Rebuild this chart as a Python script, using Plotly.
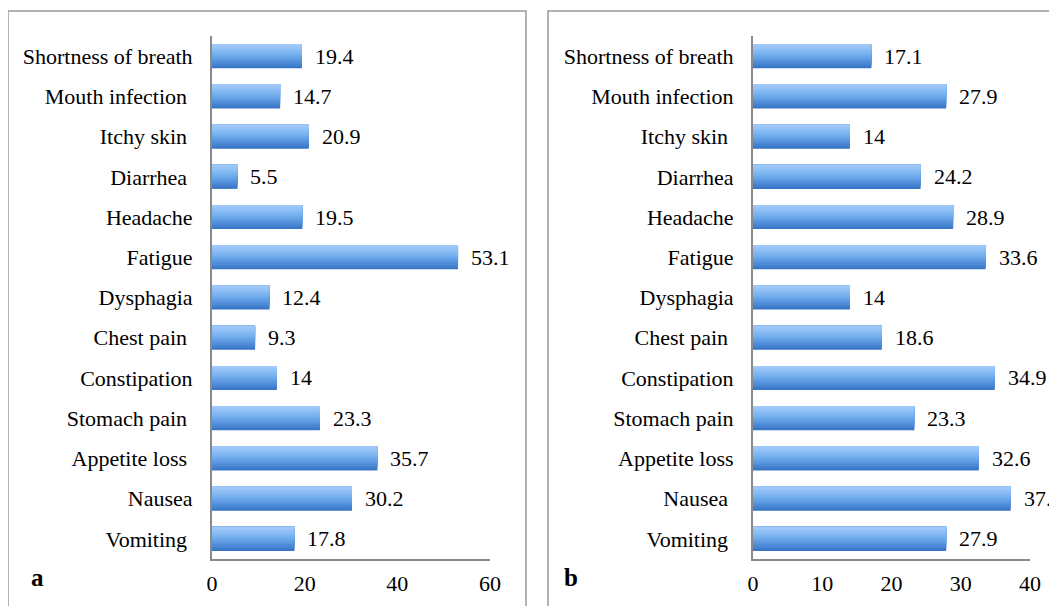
import plotly.graph_objects as go

categories = ["Vomiting", "Nausea", "Appetite loss", "Stomach pain", "Constipation",
              "Chest pain", "Dysphagia", "Fatigue", "Headache", "Diarrhea",
              "Itchy skin", "Mouth infection", "Shortness of breath"]
values_a = [17.8, 30.2, 35.7, 23.3, 14, 9.3, 12.4, 53.1, 19.5, 5.5, 20.9, 14.7, 19.4]
values_b = [27.9, 37.2, 32.6, 23.3, 34.9, 18.6, 14, 33.6, 28.9, 24.2, 14, 27.9, 17.1]
# category labels as typed in each panel (some carry a trailing space)
labels_a = ["Vomiting ", "Nausea", "Appetite loss ", "Stomach pain ", "Constipation",
            "Chest pain ", "Dysphagia", "Fatigue", "Headache", "Diarrhea ",
            "Itchy skin ", "Mouth infection ", "Shortness of breath"]
labels_b = ["Vomiting ", "Nausea ", "Appetite loss", "Stomach pain", "Constipation",
            "Chest pain ", "Dysphagia", "Fatigue", "Headache", "Diarrhea",
            "Itchy skin ", "Mouth infection", "Shortness of breath"]
ticks_a = [0, 20, 40, 60]
ticks_b = [0, 10, 20, 30, 40]

OFF = 8  # default page body margin
W, H = 1057 - OFF, 606 - OFF
FONT = "Liberation Serif"
FS = 22

def px(x):
    return (x - OFF) / W

def py(y):
    return 1 - (y - OFF) / H

def nb(t):
    return t[:-1] + "\u00a0" if t.endswith(" ") else t

fig = go.Figure()

grad = ["#3a76c6", "#4481cf", "#4e8bd7", "#5895de", "#629fe4", "#6ca8ea",
        "#77b1ee", "#82b8f2", "#8cbef5", "#97c3f7", "#a0c8f9"]
N = len(grad)
BW = 0.6

for panel, vals in (("a", values_a), ("b", values_b)):
    xa = "x" if panel == "a" else "x2"
    ya = "y" if panel == "a" else "y2"
    for i, col in enumerate(grad):
        w = BW * (N - i) / N
        fig.add_trace(go.Bar(
            y=categories, x=vals, orientation="h",
            width=w, offset=BW / 2 - w,
            marker=dict(color=col, line=dict(width=0)),
            xaxis=xa, yaxis=ya, showlegend=False, hoverinfo="skip"))
    for c, v in zip(categories, vals):
        fig.add_annotation(x=v, y=c, xref=xa, yref=ya, text=f"{v:g}",
                           showarrow=False, xanchor="left", xshift=11,
                           font=dict(family=FONT, size=FS, color="#000"))

axis_common = dict(showgrid=False, zeroline=False, showline=True,
                   linecolor="#8a8a8a", linewidth=2, automargin=False,
                   tickfont=dict(family=FONT, size=FS, color="#000"),
                   ticks="outside", tickcolor="rgba(0,0,0,0)")

fig.update_layout(
    width=W, height=H, autosize=False,
    margin=dict(l=0, r=0, t=0, b=0, pad=0),
    paper_bgcolor="white", plot_bgcolor="white",
    barmode="overlay",
    xaxis=dict(domain=[px(212), px(490)], range=[0, 60], tickvals=ticks_a,
               anchor="y", ticklen=4, **axis_common),
    yaxis=dict(domain=[py(559), py(36)], anchor="x", ticklen=13,
               categoryorder="array", categoryarray=categories,
               tickvals=categories, ticktext=[nb(t) for t in labels_a],
               **axis_common),
    xaxis2=dict(domain=[px(753), px(1030)], range=[0, 40], tickvals=ticks_b,
                anchor="y2", ticklen=4, **axis_common),
    yaxis2=dict(domain=[py(559), py(36)], anchor="x2", ticklen=13,
                categoryorder="array", categoryarray=categories,
                tickvals=categories, ticktext=[nb(t) for t in labels_b],
                **axis_common),
)

fig.add_shape(type="rect", xref="paper", yref="paper",
              x0=px(8), x1=px(526), y0=py(640), y1=py(11),
              line=dict(color="#999999", width=1.5))
fig.add_shape(type="rect", xref="paper", yref="paper",
              x0=px(548), x1=px(1090), y0=py(640), y1=py(11),
              line=dict(color="#999999", width=1.5))

fig.add_annotation(x=px(29), y=py(593), xref="paper", yref="paper", text="<b>a</b>",
                   showarrow=False, font=dict(family=FONT, size=25, color="#000"))
fig.add_annotation(x=px(571), y=py(593), xref="paper", yref="paper", text="<b>b</b>",
                   showarrow=False, font=dict(family=FONT, size=25, color="#000"))

fig.write_html("out.html")
